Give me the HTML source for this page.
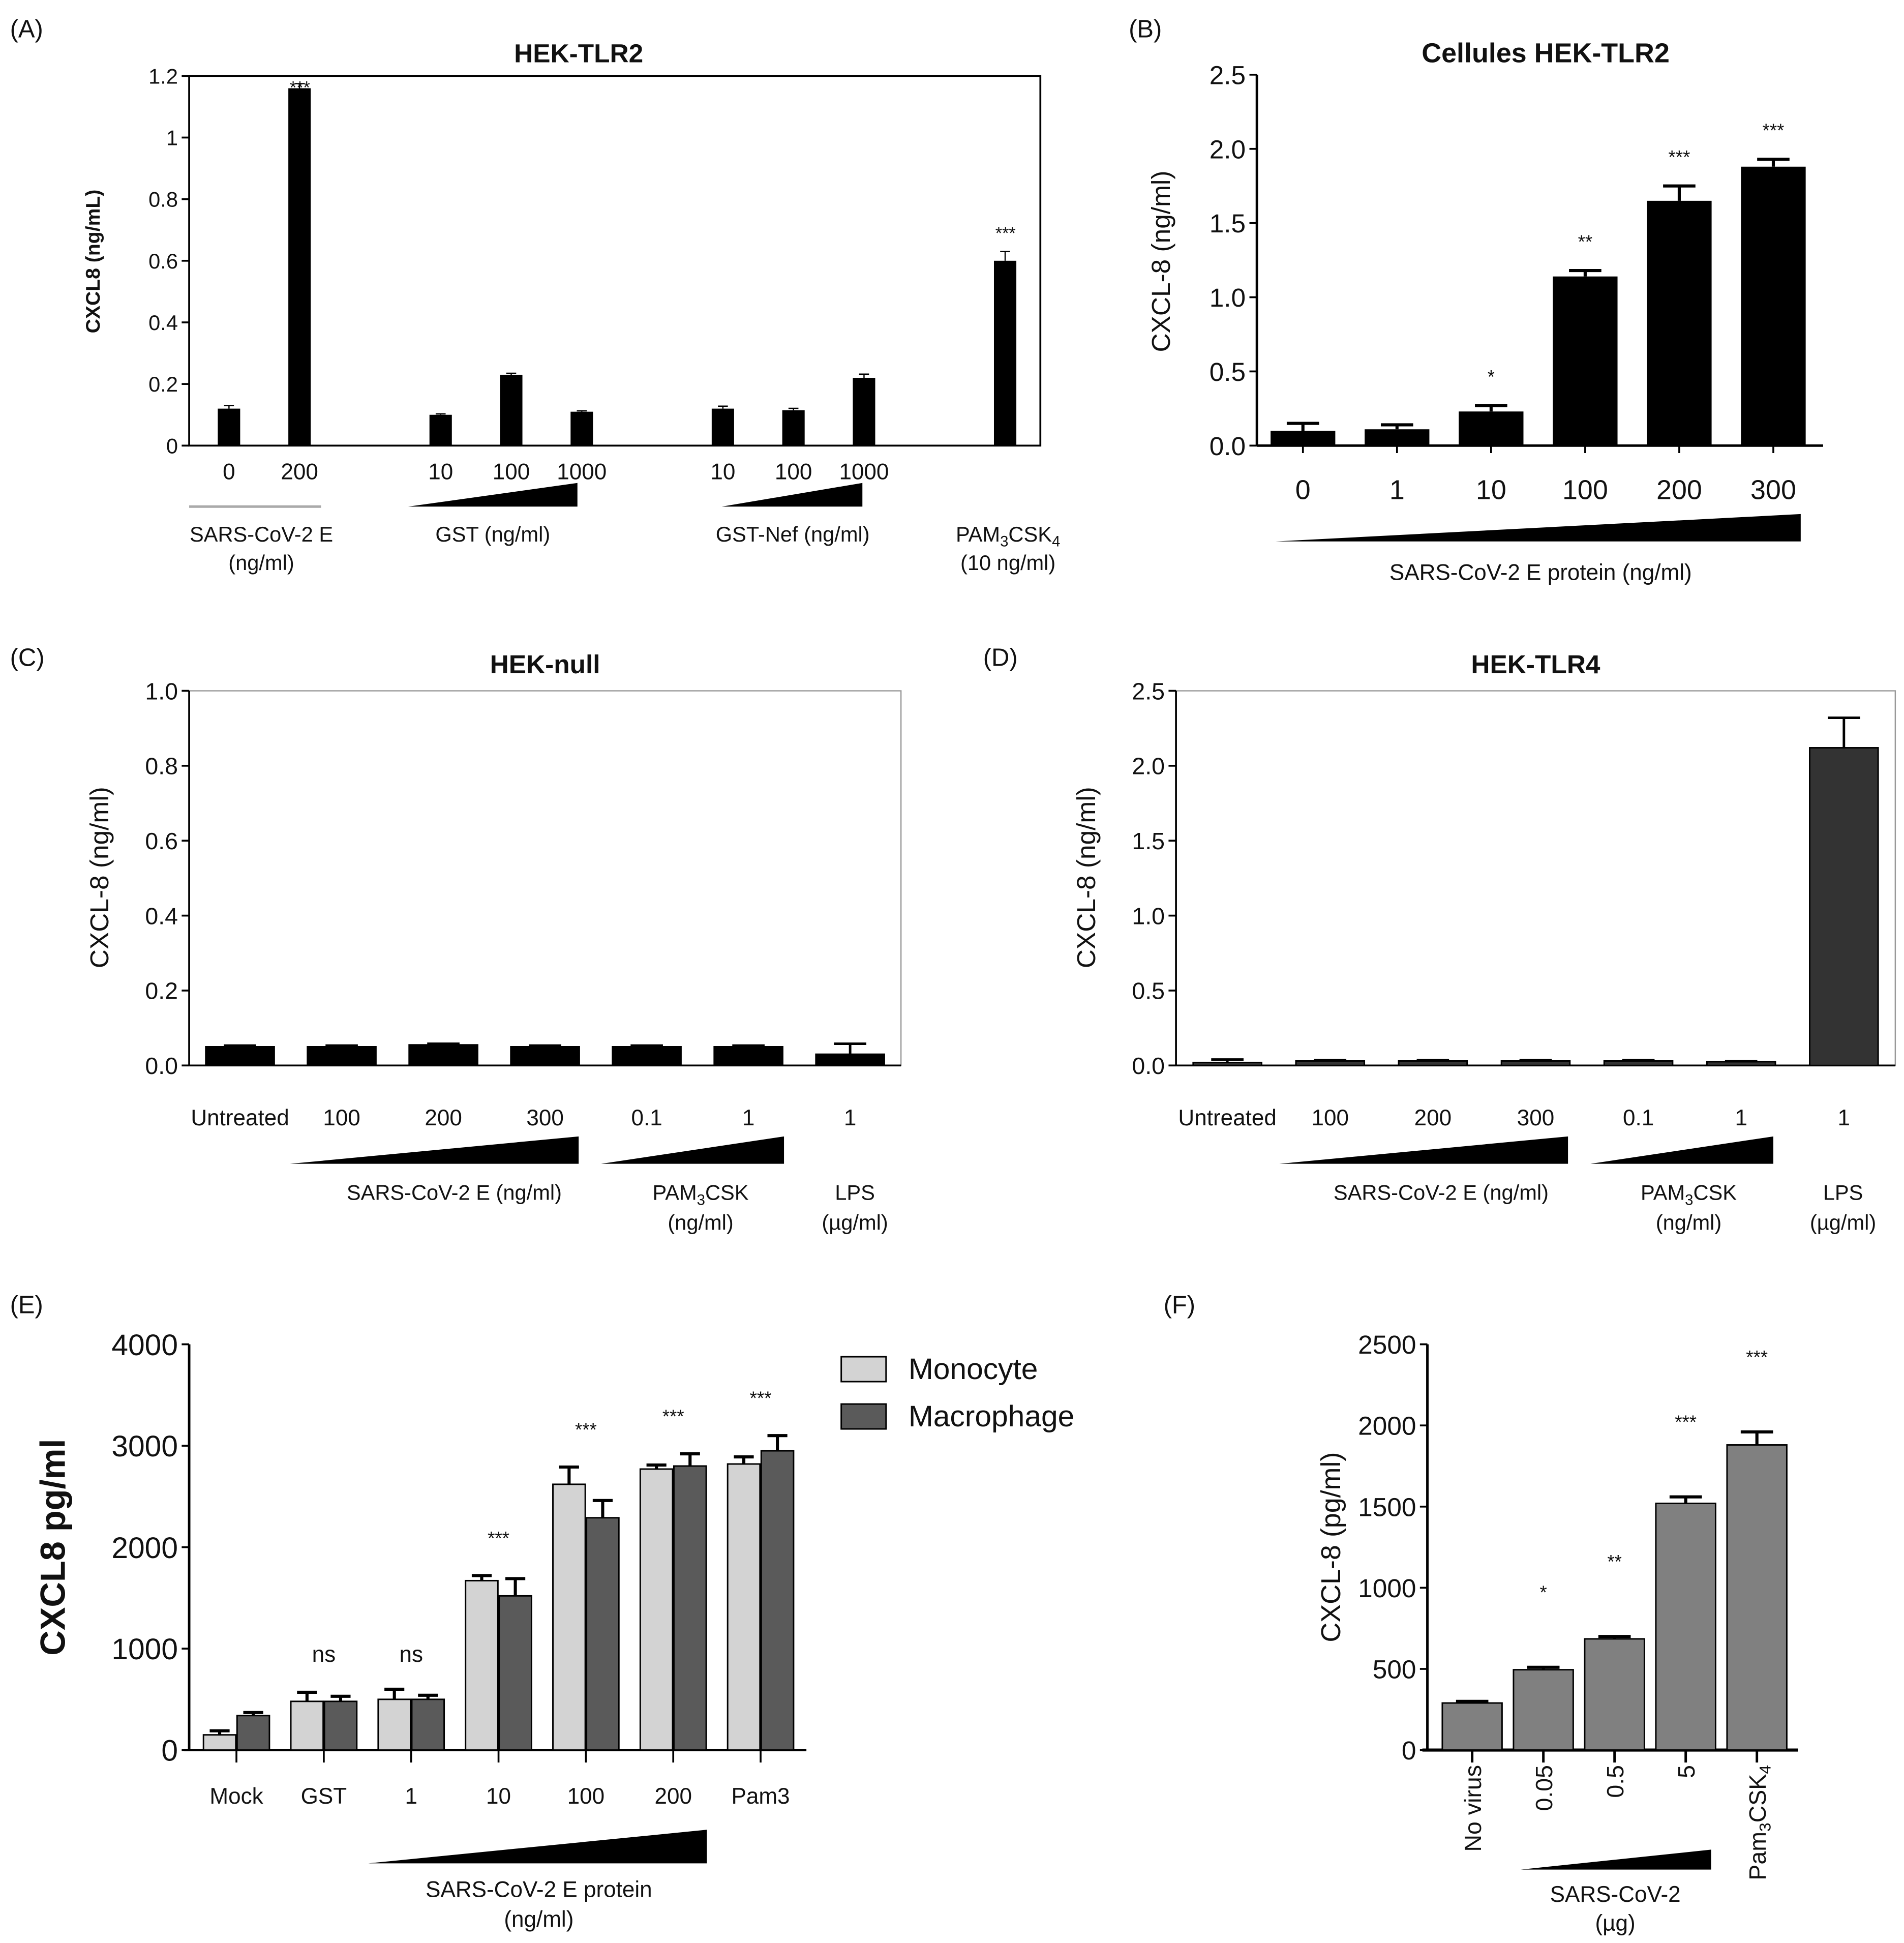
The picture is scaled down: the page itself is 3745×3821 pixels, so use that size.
<!DOCTYPE html>
<html><head><meta charset="utf-8"><style>
html,body{margin:0;padding:0;background:#fff}
svg{display:block}
text{font-family:"Liberation Sans",sans-serif;fill:#111}
</style></head><body>
<svg id="fig" xmlns="http://www.w3.org/2000/svg" width="3745" height="3821" viewBox="0 0 1530 1561" preserveAspectRatio="none"></svg>
<script>
// ---- Panel A data
const aCats=["0","200","10","100","1000","10","100","1000",""];
const aSlots=[0,1,3,4,5,7,8,9,11];
const aVals=[0.12,1.16,0.10,0.23,0.11,0.12,0.115,0.22,0.60];
const aErrs=[0.01,0.015,0.003,0.005,0.003,0.008,0.006,0.012,0.03];
const aTicks=[0,0.2,0.4,0.6,0.8,1,1.2];
// ---- Panel B data
const bCats=["0","1","10","100","200","300"];
const bVals=[0.10,0.11,0.23,1.14,1.65,1.88];
const bErrs=[0.05,0.03,0.04,0.04,0.10,0.05];
const bStars=["","","*","**","***","***"];
const bTicks=[0,0.5,1,1.5,2,2.5];
// ---- Panel C data
const cCats=["Untreated","100","200","300","0.1","1","1"];
const cVals=[0.05,0.05,0.055,0.05,0.05,0.05,0.03];
const cErrs=[0.003,0.003,0.003,0.003,0.003,0.003,0.028];
const cTicks=[0,0.2,0.4,0.6,0.8,1.0];
// ---- Panel D data
const dCats=["Untreated","100","200","300","0.1","1","1"];
const dVals=[0.02,0.03,0.03,0.03,0.03,0.025,2.12];
const dErrs=[0.02,0.005,0.005,0.005,0.005,0.003,0.2];
const dTicks=[0,0.5,1,1.5,2,2.5];
// ---- Panel E data
const eCats=["Mock","GST","1","10","100","200","Pam3"];
const eMono=[150,480,500,1670,2620,2770,2820];
const eMonoErr=[40,90,100,50,170,40,70];
const eMacro=[340,480,500,1520,2290,2800,2950];
const eMacroErr=[30,50,40,170,170,120,150];
const eStars=["","ns","ns","***","***","***","***"];
const eTicks=[0,1000,2000,3000,4000];
// ---- Panel F data
const fCats=["No virus","0.05","0.5","5","Pam3CSK4"];
const fVals=[290,495,685,1520,1880];
const fErrs=[10,15,15,40,80];
const fStars=["","*","**","***","***"];
const fTicks=[0,500,1000,1500,2000,2500];

const svg=document.getElementById('fig');
const NS="http://www.w3.org/2000/svg";
function mk(tag,attrs,parent){const e=document.createElementNS(NS,tag);for(const k in attrs)e.setAttribute(k,attrs[k]);(parent||svg).appendChild(e);return e;}
function txt(s,x,y,size,opts,name){opts=opts||{};const t=mk('text',{x:x,y:y,'font-size':size,'text-anchor':opts.anchor||'middle'});
if(opts.bold)t.setAttribute('font-weight','bold');if(opts.rot)t.setAttribute('transform','rotate('+opts.rot+' '+x+' '+y+')');
t.textContent=s;


return t;}
function line(x1,y1,x2,y2,w,c,name){const l=mk('line',{x1:x1,y1:y1,x2:x2,y2:y2,stroke:c||'#000','stroke-width':w||1.5});


return l;}
function tri(x1,x2,yb,yt,name){const p=mk('polygon',{points:x1+','+yb+' '+x2+','+yb+' '+x2+','+yt,fill:'#000'});

}
function yScale(y0,y1,max){return v=>y0-(v/max)*(y0-y1);}
function yAxis(x,ys,ticks,fmt,size,name){ticks.forEach(t=>{const y=ys(t);line(x-6,y,x,y,1.5,'#000','y-tick');txt(fmt(t),x-9,y+size*0.36,size,{anchor:'end'},name+'-tick-label');});}
function bar(x,w,ys,v,fill,stroke,name){const y=ys(v),y0=ys(0);const r=mk('rect',{x:x-w/2,y:y,width:w,height:y0-y,fill:fill,stroke:stroke||'none','stroke-width':1.2});

}
function err(x,ys,v,e,cap,w,name){const a=ys(v),b=ys(v+e);line(x,a,x,b,w||1.5,'#000',name||'error-bar');line(x-cap,b,x+cap,b,w||1.5,'#000',name||'error-bar');}

// Panel labels
[["(A)",8,30],["(B)",907,30],["(C)",8,535],["(D)",790,535],["(E)",8,1055],["(F)",935,1055]].forEach(p=>txt(p[0],p[1],p[2],20,{anchor:'start'},'panel-label'));

// ===== Panel A
(function(){const X0=152,X1=836,Y0=358,Y1=61;const ys=yScale(Y0,Y1,1.2);
const r=mk('rect',{x:X0,y:Y1,width:X1-X0,height:Y0-Y1,fill:'none',stroke:'#000','stroke-width':1.5});


yAxis(X0,ys,aTicks,t=>String(t),17,'panel-a-y');
const xs=s=>184+s*56.7;
aVals.forEach((v,i)=>{const x=xs(aSlots[i]);bar(x,18,ys,v,'#000',null,'panel-a-bar');err(x,ys,v,aErrs[i],4,1,'panel-a-error');
txt(aCats[i],x,385,18,{},'panel-a-x-label');});
txt("***",241,75,14,{},'panel-a-star');txt("***",808,192,14,{},'panel-a-star');
txt("HEK-TLR2",465,50,21,{bold:true},'panel-a-title');
txt("CXCL8 (ng/mL)",80,210,16,{bold:true,rot:-90},'panel-a-y-title');
line(152,407,258,407,2,'#aaa','panel-a-group-line');
tri(328,464,407,388,'panel-a-gst-triangle');tri(580,693,407,388,'panel-a-nef-triangle');
txt("SARS-CoV-2 E",210,435,17,{},'panel-a-group-label');txt("(ng/ml)",210,458,17,{},'panel-a-group-label');
txt("GST (ng/ml)",396,435,17,{},'panel-a-group-label');
txt("GST-Nef (ng/ml)",637,435,17,{},'panel-a-group-label');
const t=txt("PAM",810,435,17,{},'panel-a-group-label');t.innerHTML='PAM<tspan font-size="12" dy="4">3</tspan><tspan dy="-4">CSK</tspan><tspan font-size="12" dy="4">4</tspan>';
txt("(10 ng/ml)",810,458,17,{},'panel-a-group-label');
})();

// ===== Panel B
(function(){const X0=1010,X1=1465,Y0=358,Y1=60;const ys=yScale(Y0,Y1,2.5);
line(X0,Y0,X0,Y1,2,'#000','panel-b-y-axis');line(X0,Y0,X1,Y0,2,'#000','panel-b-x-axis');
yAxis(X0,ys,bTicks,t=>t.toFixed(1),21,'panel-b-y');
bVals.forEach((v,i)=>{const x=1047+i*75.6;bar(x,52,ys,v,'#000',null,'panel-b-bar');err(x,ys,v,bErrs[i],13,2.5,'panel-b-error');
line(x,Y0,x,Y0+6,1.5,'#000','x-tick');
txt(bCats[i],x,401,22,{},'panel-b-x-label');
if(bStars[i])txt(bStars[i],x,ys(v+bErrs[i])-18,15,{},'panel-b-star');});
tri(1025,1447,435,413,'panel-b-triangle');
txt("SARS-CoV-2 E protein (ng/ml)",1238,466,18,{},'panel-b-group-label');
txt("Cellules HEK-TLR2",1242,50,22,{bold:true},'panel-b-title');
txt("CXCL-8 (ng/ml)",940,210,21,{rot:-90},'panel-b-y-title');
})();

// ===== Panels C & D
function panelCD(p,X0,X1,vals,errs,cats,ticks,max,fill,title,tri1,tri2,lab1,lab2,lab3){
const Y0=856,Y1=555;const ys=yScale(Y0,Y1,max);
const r=mk('rect',{x:X0,y:Y1,width:X1-X0,height:Y0-Y1,fill:'none',stroke:'#999','stroke-width':1});


line(X0,Y0,X0,Y1,1.5,'#000','panel-'+p+'-y-axis');line(X0,Y0,X1,Y0,1.5,'#000','panel-'+p+'-x-axis');
yAxis(X0,ys,ticks,t=>t.toFixed(1),19,'panel-'+p+'-y');
const step=(X1-X0)/vals.length;
vals.forEach((v,i)=>{const x=X0+step*(i+0.5);bar(x,55,ys,v,fill,'#000','panel-'+p+'-bar');err(x,ys,v,errs[i],13,2,'panel-'+p+'-error');
txt(cats[i],x,904,18,{},'panel-'+p+'-x-label');});
tri(tri1[0],tri1[1],935,913,'panel-'+p+'-triangle');tri(tri2[0],tri2[1],935,913,'panel-'+p+'-triangle');
txt("SARS-CoV-2 E (ng/ml)",lab1,964,17,{},'panel-'+p+'-group-label');
const t=txt("PAM",lab2,964,17,{},'panel-'+p+'-group-label');t.innerHTML='PAM<tspan font-size="12" dy="4">3</tspan><tspan dy="-4">CSK</tspan>';
txt("(ng/ml)",lab2,988,17,{},'panel-'+p+'-group-label');
txt("LPS",lab3,964,17,{},'panel-'+p+'-group-label');txt("(µg/ml)",lab3,988,17,{},'panel-'+p+'-group-label');
txt(title,(X0+X1)/2,541,21,{bold:true},'panel-'+p+'-title');
txt("CXCL-8 (ng/ml)",X0-65,705,21,{rot:-90},'panel-'+p+'-y-title');
}
panelCD('c',152,724,cVals,cErrs,cCats,cTicks,1.0,'#000','HEK-null',[233,465],[483,630],365,563,687);
panelCD('d',945,1523,dVals,dErrs,dCats,dTicks,2.5,'#333','HEK-TLR4',[1028,1260],[1278,1425],1158,1357,1481);

// ===== Panel E
(function(){const X0=152,X1=648,Y0=1406,Y1=1080;const ys=yScale(Y0,Y1,4000);
line(X0,Y0,X0,Y1,2,'#000','panel-e-y-axis');line(X0-4,Y0,X1,Y0,2,'#000','panel-e-x-axis');
yAxis(X0,ys,eTicks,t=>String(t),24,'panel-e-y');
eCats.forEach((c,i)=>{const x=190+i*70.2;
bar(x-13.5,26,ys,eMono[i],'#d3d3d3','#000','panel-e-monocyte-bar');err(x-13.5,ys,eMono[i],eMonoErr[i],8,2.5,'panel-e-error');
bar(x+13.5,26,ys,eMacro[i],'#5a5a5a','#000','panel-e-macrophage-bar');err(x+13.5,ys,eMacro[i],eMacroErr[i],8,2.5,'panel-e-error');
line(x,Y0,x,Y0+10,1.5,'#000','x-tick');
txt(c,x,1449,18,{},'panel-e-x-label');
if(eStars[i])txt(eStars[i],x,eStars[i]==='ns'?1335:ys(Math.max(eMono[i]+eMonoErr[i],eMacro[i]+eMacroErr[i]))-25,eStars[i]==='ns'?18:15,{},'panel-e-star');});
tri(296,568,1497,1470,'panel-e-triangle');
txt("SARS-CoV-2 E protein",433,1524,18,{},'panel-e-group-label');txt("(ng/ml)",433,1548,18,{},'panel-e-group-label');
txt("CXCL8 pg/ml",52,1243,28,{bold:true,rot:-90},'panel-e-y-title');
const l1=mk('rect',{x:676,y:1090,width:36,height:20,fill:'#d3d3d3',stroke:'#000','stroke-width':1.2});


const l2=mk('rect',{x:676,y:1128,width:36,height:20,fill:'#5a5a5a',stroke:'#000','stroke-width':1.2});


txt("Monocyte",730,1108,24,{anchor:'start'},'legend-monocyte');txt("Macrophage",730,1146,24,{anchor:'start'},'legend-macrophage');
})();

// ===== Panel F
(function(){const X0=1147,X1=1445,Y0=1406,Y1=1080;const ys=yScale(Y0,Y1,2500);
line(X0,Y0,X0,Y1,2,'#000','panel-f-y-axis');line(X0-4,Y0,X1,Y0,2.5,'#000','panel-f-x-axis');
yAxis(X0,ys,fTicks,t=>String(t),21,'panel-f-y');
fVals.forEach((v,i)=>{const x=1183+i*57.2;bar(x,48,ys,v,'#808080','#000','panel-f-bar');err(x,ys,v,fErrs[i],13,2.5,'panel-f-error');
line(x,Y0,x,Y0+10,2,'#000','x-tick');
if(fStars[i])txt(fStars[i],x,ys(v+fErrs[i])-55,15,{},'panel-f-star');
const t=txt(fCats[i],x+7,1418,19,{anchor:'end',rot:-90},'panel-f-x-label');
if(fCats[i]==='Pam3CSK4')t.innerHTML='Pam<tspan font-size="13" dy="4">3</tspan><tspan dy="-4">CSK</tspan><tspan font-size="13" dy="4">4</tspan>';});
tri(1222,1375,1502,1486,'panel-f-triangle');
txt("SARS-CoV-2",1298,1528,18,{},'panel-f-group-label');txt("(µg)",1298,1551,18,{},'panel-f-group-label');
txt("CXCL-8 (pg/ml)",1077,1243,22,{rot:-90},'panel-f-y-title');
})();
</script>
</body></html>
